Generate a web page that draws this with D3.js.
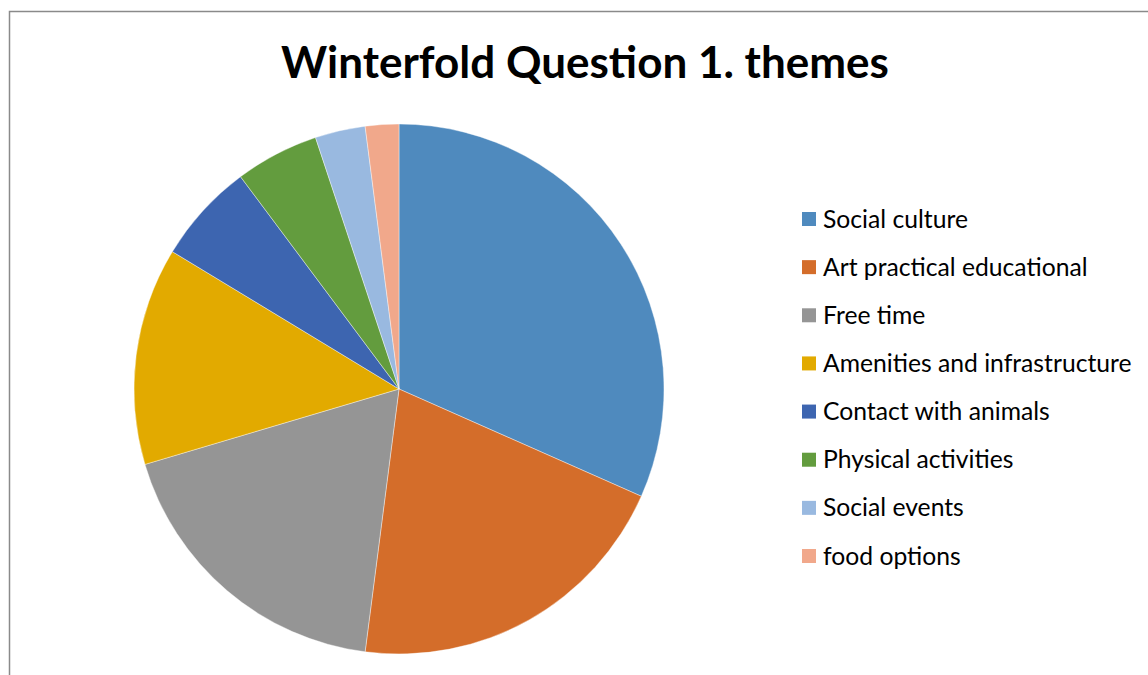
<!DOCTYPE html>
<html><head><meta charset="utf-8">
<script src="https://cdn.jsdelivr.net/npm/d3@7"></script>
<style>body{margin:0;background:#fff}svg{display:block}</style>
</head><body>
<svg id="c" width="1148" height="675"></svg>
<script>
const categories = ["Social culture","Art practical educational","Free time","Amenities and infrastructure","Contact with animals","Physical activities","Social events","food options"];
const values = [31,20,18,13,6,5,3,2];
const colors = ["#4F8ABE","#D46D2A","#959595","#E2AA00","#3D65B0","#639C3E","#99B9E0","#F1A88B"];
const title = "Winterfold Question 1. themes";

const svg = d3.select("#c");
svg.append("rect").attr("x",9.5).attr("y",11.5).attr("width",1160).attr("height",700)
  .attr("fill","#fff").attr("stroke","#8a8a8a").attr("stroke-width",1.5);

svg.append("text").attr("x",585).attr("y",78).attr("text-anchor","middle")
  .attr("font-family","Lato, 'Open Sans', sans-serif").attr("font-weight","bold")
  .attr("font-size",44).attr("fill","#000").text(title);

const cx=399, cy=389, r=265;
const pie = d3.pie().sort(null).value(d=>d);
const arc = d3.arc().innerRadius(0).outerRadius(r);
const color = d3.scaleOrdinal().domain(categories).range(colors);
svg.append("g").attr("transform",`translate(${cx},${cy})`)
  .selectAll("path").data(pie(values)).join("path")
  .attr("d",arc).attr("fill",(d,i)=>color(categories[i]))
  .attr("stroke","#fff").attr("stroke-width",0.4);

const ly = d3.scalePoint().domain(categories).range([219,556]);
const lg = svg.append("g");
categories.forEach(c=>{
  lg.append("rect").attr("x",802).attr("y",ly(c)-7).attr("width",14).attr("height",14).attr("fill",color(c));
  lg.append("text").attr("x",823).attr("y",ly(c)+8.5).attr("font-family","Lato, 'Open Sans', sans-serif")
    .attr("font-size",24.7).attr("fill","#000").text(c);
});
</script>
</body></html>
